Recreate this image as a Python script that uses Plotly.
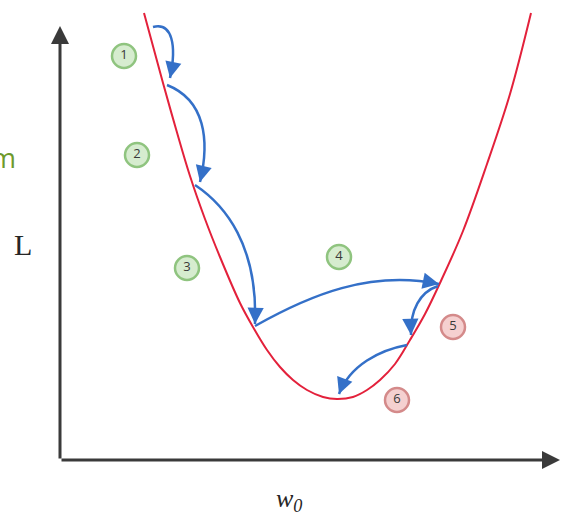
import plotly.graph_objects as go

# ---- data (w0, L); origin at axes corner ----
curve_w = [84, 103, 116, 130, 145, 160, 180, 193, 207, 220, 233, 247, 263, 277,
           293, 307, 320, 335, 350, 365, 380, 403, 427, 450, 471]
curve_L = [447, 377, 331, 284, 241, 203, 157, 133, 110, 93, 80, 70, 63, 61,
           63, 70, 80, 96, 120, 146, 177, 229, 296, 366, 447]

step_labels = ["1", "2", "3", "4", "5", "6"]
step_w = [64, 77, 127, 279, 393, 337]
step_L = [404, 305, 192, 203, 133, 60]
step_kind = ["ok", "ok", "ok", "ok", "bad", "bad"]

OX, OY = 60, 460  # pixel position of axes origin


def P(px, py):
    return px - OX, OY - py


# step arrows as cubic Bezier control points (pixel coords)
arcs = [
    [(153, 27), (172, 22), (177, 45), (170, 78)],
    [(167, 85), (205, 100), (210, 140), (200, 182)],
    [(195, 185), (225, 205), (258, 245), (255, 324)],
    [(255, 326), (310, 295), (370, 270), (439, 284)],
    [(438, 286), (420, 292), (410, 310), (411, 335)],
    [(407, 345), (380, 350), (350, 365), (339, 394)],
]

BLUE = "#3470c8"
fig = go.Figure()

fig.add_trace(go.Scatter(x=curve_w, y=curve_L, mode="lines",
                         line=dict(color="#e3213b", width=2, shape="spline", smoothing=1.0),
                         hoverinfo="skip", showlegend=False))

shapes = []
annotations = []
for pts in arcs:
    d = [P(px, py) for (px, py) in pts]
    path = "M {} {} C {} {}, {} {}, {} {}".format(*[v for p in d for v in p])
    shapes.append(dict(type="path", path=path, xref="x", yref="y",
                       line=dict(color=BLUE, width=2.5)))
    (x2, y2), (x3, y3) = d[2], d[3]
    dx, dy = x3 - x2, y3 - y2
    n = (dx * dx + dy * dy) ** 0.5
    annotations.append(dict(x=x3, y=y3, ax=x3 - dx / n * 12, ay=y3 - dy / n * 12,
                            xref="x", yref="y", axref="x", ayref="y", text="",
                            showarrow=True, arrowhead=2, arrowsize=1.3, arrowwidth=2.5,
                            arrowcolor=BLUE, standoff=0))

# axes with arrows
AX = "#3a3a3a"
annotations.append(dict(x=P(60, 26)[0], y=P(60, 26)[1], ax=0, ay=0, xref="x", yref="y",
                        axref="x", ayref="y", text="", showarrow=True, arrowhead=2,
                        arrowsize=1.2, arrowwidth=3, arrowcolor=AX))
annotations.append(dict(x=P(560, 460)[0], y=P(560, 460)[1], ax=0, ay=0, xref="x", yref="y",
                        axref="x", ayref="y", text="", showarrow=True, arrowhead=2,
                        arrowsize=1.2, arrowwidth=3, arrowcolor=AX))

# step badges
fills = {"ok": "#d6eccf", "bad": "#f5d0d0"}
borders = {"ok": "#8fc47f", "bad": "#d48a8a"}
fig.add_trace(go.Scatter(x=step_w, y=step_L, mode="markers+text", text=step_labels,
                         textfont=dict(family="Open Sans", size=13, color="#3a3a3a"),
                         textposition="middle center",
                         marker=dict(size=24, color=[fills[k] for k in step_kind],
                                     line=dict(color=[borders[k] for k in step_kind], width=2.5)),
                         hoverinfo="skip", showlegend=False))

# texts
annotations.append(dict(x=P(18, 157)[0], y=P(18, 157)[1], xref="x", yref="y", text="m",
                        showarrow=False, xanchor="right", yanchor="middle",
                        font=dict(family="Open Sans", size=27, color="#6e9a2c")))
annotations.append(dict(x=P(23, 244)[0], y=P(23, 244)[1], xref="x", yref="y", text="L",
                        showarrow=False, xanchor="center", yanchor="middle",
                        font=dict(family="Liberation Serif", size=30, color="#262626")))
annotations.append(dict(x=P(289, 500)[0], y=P(289, 500)[1], xref="x", yref="y",
                        text="<i>w<sub>0</sub></i>",
                        showarrow=False, xanchor="center", yanchor="middle",
                        font=dict(family="Liberation Serif", size=26, color="#262626")))

fig.update_layout(
    width=562, height=517, margin=dict(l=0, r=0, t=0, b=0),
    paper_bgcolor="white", plot_bgcolor="white",
    xaxis=dict(range=[-OX, 562 - OX], visible=False, fixedrange=True),
    yaxis=dict(range=[OY - 517, OY], visible=False, fixedrange=True),
    shapes=shapes, annotations=annotations,
)

fig.write_html("out.html", config={"displayModeBar": False},
               post_script="document.body.style.margin='0';document.body.style.overflow='hidden';")
